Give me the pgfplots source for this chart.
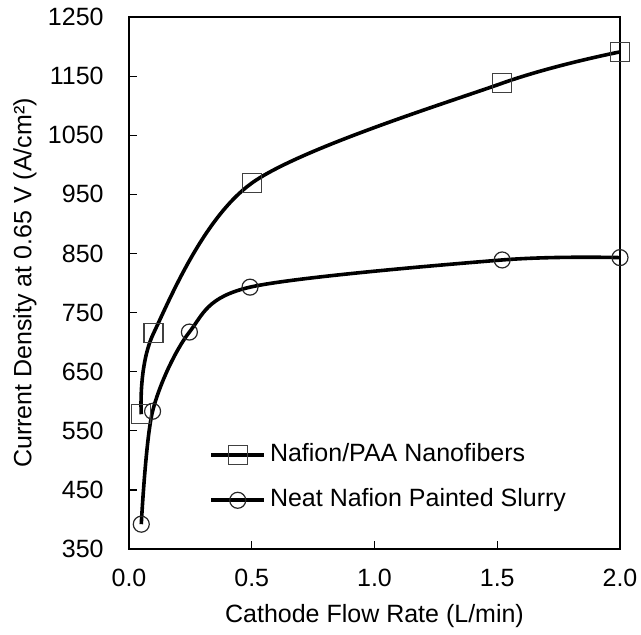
\documentclass[border=0pt]{standalone}
\usepackage{fontspec}
\setmainfont{Liberation Sans}
\usepackage{pgfplots}
\pgfplotsset{compat=1.18}

\pgfplotstableread{
x      y
0.05   578
0.10   715
0.50   969
1.52   1138
2.00   1191
}\nanofibers

\pgfplotstableread{
x      y
0.05   392
0.096  583
0.246  717
0.493  793
1.52   839
2.00   843
}\slurry

\begin{document}
\fontsize{12.5}{15}\selectfont
\begin{tikzpicture}
\begin{axis}[
  scale only axis,
  width=245.5pt, height=266pt,
  xmin=0, xmax=2, ymin=350, ymax=1250,
  xtick={0,0.5,1,1.5,2},
  ytick={350,450,550,650,750,850,950,1050,1150,1250},
  xticklabel style={inner sep=0pt, anchor=north, yshift=-10pt,
    /pgf/number format/.cd, fixed, fixed zerofill, precision=1},
  yticklabel style={inner sep=0pt, anchor=east, xshift=-12.5pt},
  /pgf/number format/1000 sep={},
  /pgf/number format/assume math mode=true,
  tick label style={font=\fontsize{12.5}{15}\selectfont},
  label style={font=\fontsize{12.5}{15}\selectfont, inner sep=0pt},
  tick align=inside, xtick pos=bottom, ytick pos=left,
  major tick length=4pt,
  axis line style={line width=0.75pt},
  every tick/.style={black, line width=0.6pt},
  xlabel={Cathode Flow Rate (L/min)},
  ylabel={Current Density at 0.65 V (A/cm²)},
  xlabel style={at={(axis description cs:0.5,-0.126)}, anchor=center},
  ylabel style={at={(axis description cs:-0.212,0.5)}, anchor=center},
  clip=false,
  legend cell align=left,
  legend style={draw=none, fill=none, at={(0.163,0.207)}, anchor=north west,
    inner sep=0pt, row sep=6.5pt,
    nodes={text height=9pt, text depth=3pt, inner sep=2pt},
    font=\fontsize{12.5}{15}\selectfont},
  legend image code/.code={\draw[mark repeat=2, mark phase=2]
    plot coordinates {(0pt,0pt) (13.25pt,0pt) (26.5pt,0pt)};},
]
\addplot[black, line width=1.8pt, smooth, mark=square,
  mark size=4.75pt, mark options={solid, line width=0.6pt, draw=black!75, fill=none}]
  table[x=x, y=y] {\nanofibers};
\addlegendentry{Nafion/PAA Nanofibers}
\addplot[black, line width=1.8pt, smooth, mark=o,
  mark size=4pt, mark options={solid, line width=0.6pt, draw=black!85, fill=none}]
  table[x=x, y=y] {\slurry};
\addlegendentry{Neat Nafion Painted Slurry}
\end{axis}
\path (current axis.south west) ++(-64.5pt,-42.5pt) rectangle ++(320.5pt,317pt);
\end{tikzpicture}
\end{document}
